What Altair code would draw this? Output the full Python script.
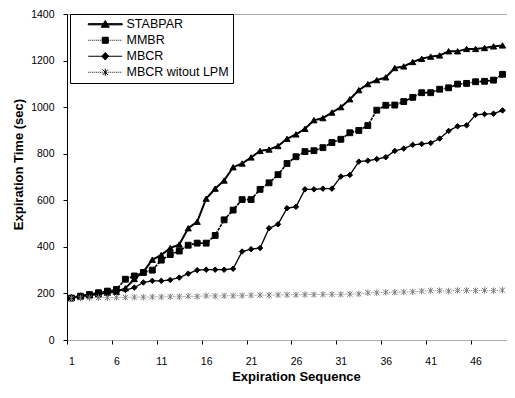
import altair as alt
import pandas as pd

seq = list(range(1, 50))
series_names = ["STABPAR", "MMBR", "MBCR", "MBCR witout LPM"]

stabpar = [183, 188, 192, 197, 203, 207, 222, 262, 292, 345,
           365, 395, 410, 480, 508, 607, 650, 685, 742, 758,
           784, 812, 818, 833, 864, 883, 907, 944, 953, 977,
           1000, 1034, 1073, 1099, 1116, 1128, 1168, 1175, 1194, 1208,
           1217, 1222, 1240, 1240, 1250, 1250, 1254, 1261, 1265]
mmbr = [180, 188, 195, 203, 210, 217, 261, 275, 290, 300,
        343, 367, 382, 407, 416, 416, 449, 516, 558, 603,
        603, 647, 675, 710, 758, 787, 809, 813, 826, 848,
        862, 890, 900, 921, 987, 1008, 1009, 1024, 1042, 1062,
        1062, 1077, 1083, 1099, 1102, 1109, 1111, 1116, 1141]
mbcr = [183, 190, 197, 203, 209, 214, 215, 225, 247, 254,
        254, 258, 268, 285, 300, 302, 302, 302, 306, 380,
        390, 395, 480, 497, 566, 572, 647, 647, 650, 650,
        702, 709, 766, 770, 777, 785, 812, 822, 838, 842,
        846, 865, 898, 918, 922, 967, 970, 972, 986]
mbcr_wo_lpm = [178, 180, 181, 182, 182, 183, 183, 184, 184, 185,
               185, 186, 186, 188, 187, 190, 189, 190, 190, 191,
               192, 193, 193, 194, 194, 194, 195, 195, 196, 196,
               196, 197, 198, 203, 203, 205, 205, 206, 207, 210,
               212, 212, 210, 213, 213, 212, 213, 212, 214]

x_tick_labels = [1, 6, 11, 16, 21, 26, 31, 36, 41, 46]
y_tick_values = [0, 200, 400, 600, 800, 1000, 1200, 1400]

rows = []
for name, vals in zip(series_names, [stabpar, mmbr, mbcr, mbcr_wo_lpm]):
    for s, v in zip(seq, vals):
        rows.append({"seq": s, "value": v, "series": name})
df = pd.DataFrame(rows)

FONT = "Liberation Sans"
W, H = 440, 326
half = W / 49 / 2

# plot marker shapes
asterisk = "M-1,-1L1,1M-1,1L1,-1M0,-1.25L0,1.25"

# legend symbol paths (line segment + marker), unit = sqrt(size)/2 = 5px
def dotted(x0, x1, dash=0.2, gap=0.2):
    parts = []
    x = x0
    while x < x1:
        parts.append(f"M{x:.2f},0L{min(x + dash, x1):.2f},0")
        x += dash + gap
    return "".join(parts)

L = 3.4
leg_stab = f"M{-L},-0.12L{L},-0.12L{L},0.12L{-L},0.12Z" + "M0,-0.75L0.8,0.6L-0.8,0.6Z"
leg_mmbr = dotted(-L, L) + "M-0.6,-0.6L0.6,-0.6L0.6,0.6L-0.6,0.6Z"
leg_mbcr = f"M{-L},0L{L},0" + "M0,-0.75L0.7,0L0,0.75L-0.7,0Z"
leg_wo = dotted(-L, L) + "M-0.55,-0.55L0.55,0.55M-0.55,0.55L0.55,-0.55M0,-0.7L0,0.7"

x_scale = alt.Scale(domain=[0.5, 49.5], nice=False, zero=False)
y_scale = alt.Scale(domain=[0, 1400], nice=False, zero=True)

x_axis = alt.Axis(
    values=x_tick_labels, title="Expiration Sequence", grid=False, format="d",
    tickOffset=-half, labelOffset=half, labelFlush=False, labelOverlap=False,
    domainColor="#777", domainDash=[1, 1], tickColor="black", tickSize=4,
    labelPadding=12, labelFontSize=10.5, labelFont=FONT, labelColor="black",
    titleFont=FONT, titleFontSize=13, titleFontWeight="bold", titleColor="black",
    titlePadding=4, titleX=229,
)
y_axis = alt.Axis(
    values=y_tick_values, title="Expiration Time (sec)", grid=False, format="d",
    labelFlush=False, labelOverlap=False,
    domainColor="black", tickColor="black", tickSize=4,
    labelPadding=9, labelFontSize=10.5, labelFont=FONT, labelColor="black",
    titleFont=FONT, titleFontSize=13, titleFontWeight="bold", titleColor="black",
    titlePadding=5, titleY=150,
)

lines = alt.Chart(df).mark_line(clip=True).encode(
    x=alt.X("seq:Q", scale=x_scale, axis=x_axis),
    y=alt.Y("value:Q", scale=y_scale, axis=y_axis),
    color=alt.Color("series:N", scale=alt.Scale(domain=series_names,
                    range=["black", "black", "black", "#7a7a7a"]), legend=None),
    strokeWidth=alt.StrokeWidth("series:N", scale=alt.Scale(domain=series_names,
                    range=[2, 1, 1, 1]), legend=None),
    strokeDash=alt.StrokeDash("series:N", scale=alt.Scale(domain=series_names,
                    range=[[1, 0], [3, 1], [1, 0], [1, 1]]), legend=None),
    detail="series:N",
)

mk_scale = alt.Scale(domain=series_names, range=["black", "black", "black", "#7a7a7a"])
points = alt.Chart(df).mark_point(filled=True, opacity=1, strokeWidth=1).encode(
    x=alt.X("seq:Q", scale=x_scale, axis=None),
    y=alt.Y("value:Q", scale=y_scale, axis=None),
    shape=alt.Shape("series:N", scale=alt.Scale(domain=series_names,
                    range=["triangle-up", "square", "diamond", asterisk]), legend=None),
    fill=alt.Fill("series:N", scale=mk_scale, legend=None),
    stroke=alt.Stroke("series:N", scale=mk_scale, legend=None),
    size=alt.Size("series:N", scale=alt.Scale(domain=series_names,
                  range=[38, 26, 34, 32]), legend=None),
)

legend_layer = alt.Chart(df).transform_filter("false").mark_point(
    filled=True, fill="black", stroke="black", strokeWidth=1, opacity=1
).encode(
    x=alt.X("seq:Q", scale=x_scale, axis=alt.Axis(
        orient="top", labels=False, ticks=False, title=None, grid=False,
        domainColor="#777", domainDash=[1, 1])),
    y=alt.Y("value:Q", scale=y_scale, axis=None),
    shape=alt.Shape("series:N", scale=alt.Scale(domain=series_names,
                    range=[leg_stab, leg_mmbr, leg_mbcr, leg_wo]),
                    legend=alt.Legend(
                        title=None, orient="none", legendX=3, legendY=0,
                        direction="vertical", symbolSize=100,
                        symbolOffset=25, labelOffset=15, padding=4,
                        rowPadding=3, strokeColor="black", fillColor="white",
                        labelFont=FONT, labelFontSize=12.5, labelColor="black",
                        symbolStrokeWidth=1)),
)

chart = alt.layer(lines, points, legend_layer).resolve_scale(
    shape="independent"
).resolve_axis(x="independent", y="independent").properties(
    width=W, height=H,
    autosize=alt.AutoSizeParams(type="none"),
    padding={"left": 59, "top": 6, "right": 0, "bottom": 48},
).configure_view(stroke=None).configure(background="white")

chart.save("out.html", embed_options={"renderer": "svg", "actions": False})
